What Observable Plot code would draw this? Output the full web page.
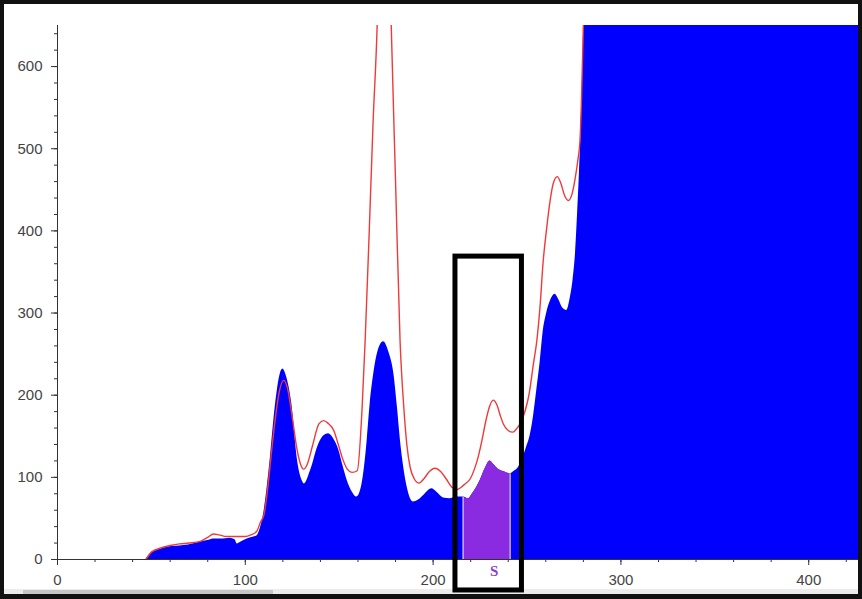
<!DOCTYPE html>
<html>
<head>
<meta charset="utf-8">
<script src="https://cdn.jsdelivr.net/npm/d3@7"></script>
<script src="https://cdn.jsdelivr.net/npm/@observablehq/plot@0.6"></script>
<style>
  html, body { margin: 0; padding: 0; background: #111; width: 862px; height: 599px; overflow: hidden; }
  #panel { position: absolute; left: 4px; top: 4px; width: 854px; height: 585px; background: #fff; }
  #track { position: absolute; left: 4px; top: 589px; width: 854px; height: 5px; background: #ececec; }
  #thumb { position: absolute; left: 23px; top: 590px; width: 250px; height: 4px; background: #c6c6c6; }
  #chart { position: absolute; left: 0; top: 0; }
</style>
</head>
<body>
<div id="panel"></div>
<div id="track"></div>
<div id="thumb"></div>
<div id="chart"></div>
<script>
// Blue filled curve (x, value)
const blueX = [0, 47, 48, 50.4, 54, 58.4, 63, 67.3, 72, 76, 80, 83, 87, 92, 94.5, 95.7, 97.5, 101, 104, 106.3, 108, 109.8, 111.5, 113.4, 115, 117, 118.5, 120, 122, 125, 127.6, 130.3, 131.5, 134.7, 139.2, 142, 144.3, 147, 149.8, 152, 154.3, 157, 159.4, 162, 164.9, 166.5, 168.4, 170.5, 173.6, 176.5, 179.1, 181, 182.6, 184.5, 186.2, 189.5, 192, 195, 199.3, 202, 205.5, 209, 212.6, 216, 218.8, 221, 225, 228, 230.3, 232.5, 234.7, 237.5, 241, 243, 245.4, 247.5, 249.8, 251.6, 253.5, 255.2, 257, 258.5, 260.5, 262.5, 264.9, 267, 269, 271.1, 273, 274.5, 275.8, 276.9, 277.9, 278.8, 279.6, 280.3, 281, 426.5];
const blueY = [0, 0, 3, 9, 12, 15, 16, 17, 19, 21, 23, 25, 25, 26, 24, 19, 21, 25, 27, 29, 38, 56, 85, 125, 165, 205, 225, 232, 222, 185, 124, 96, 92, 108, 141, 151, 153, 147, 133, 114, 96, 82, 76, 90, 145, 190, 226, 252, 265, 252, 226, 185, 145, 110, 88, 70, 72, 78, 86, 82, 75, 74, 76, 76, 74, 80, 96, 112, 120, 115, 110, 107, 104, 107, 112, 122, 137, 150, 175, 206, 240, 275, 300, 315, 323, 316, 306, 303, 318, 340, 372, 420, 470, 525, 590, 680, 1000, 1000];

// Red line (x, value)
const redX = [47, 48, 50, 55, 60, 65, 70, 76, 80, 83, 86, 90, 95, 100, 103, 106, 108, 110, 112, 114, 116, 118, 120.4, 122.5, 125, 127.6, 129.4, 131, 133, 135.6, 139.2, 141.7, 144, 147.1, 149.5, 151.6, 154.3, 156.8, 159.6, 162.2, 163.8, 166, 168, 170.2, 172, 174, 176, 177.7, 180, 182.4, 184.4, 186, 187.8, 190, 192.5, 195, 198, 201, 204, 207, 210, 212.6, 215, 217, 219.7, 222, 224, 226, 228, 230, 232, 234, 235.8, 237.4, 240, 242.4, 244, 246.3, 249, 251, 253.4, 255.2, 257, 258.5, 260.5, 262, 264, 266.1, 268, 270, 272, 274, 275.5, 277, 278.2, 279, 280, 281];
const redY = [0, 3, 9, 14, 17, 19, 20, 22, 27, 31, 30, 28, 28, 28, 30, 34, 45, 55, 88, 132, 172, 203, 218, 208, 173, 133, 116, 110, 116, 137, 165, 169, 166, 157, 140, 124, 110, 106, 108, 185, 266, 400, 530, 650, 820, 900, 820, 650, 460, 266, 185, 140, 112, 98, 93, 98, 107, 111, 107, 98, 88, 85, 88, 92, 98, 110, 125, 145, 168, 186, 194, 188, 175, 165, 157, 155, 158, 165, 181, 200, 238, 266, 310, 360, 404, 432, 458, 466, 458, 443, 437, 445, 462, 485, 510, 560, 650, 800];

// Highlighted window "S"
const sRange = [216, 241];
const sLabel = "S";
const sLabelX = 232.5;
// Annotation box around the window (data units)
const boxX = [211.9, 247.3];
const boxY = [-37.7, 368.7];

const xTicks = [0, 100, 200, 300, 400];
const yTicks = [0, 100, 200, 300, 400, 500, 600];
const xMinor = d3.range(0, 427, 20);
const yMinor = d3.range(0, 651, 20);

const blue = blueX.map((x, i) => ({x, y: blueY[i]}));
const red = redX.map((x, i) => ({x, y: redY[i]}));
const purple = blue.filter(d => d.x >= sRange[0] && d.x <= sRange[1]);
const edges = purple.filter(d => d.x === sRange[0] || d.x === sRange[1]);

const chart = Plot.plot({
  width: 862,
  height: 599,
  marginLeft: 57,
  marginRight: 4,
  marginTop: 25,
  marginBottom: 40,
  style: {background: "transparent", fontFamily: "Liberation Sans, Arial, sans-serif", fontSize: "15px", color: "#444"},
  x: {domain: [0, 426.5], label: null},
  y: {domain: [0, 650], label: null},
  marks: [
    Plot.areaY(blue, {x: "x", y: "y", fill: "#0000ff", curve: "monotone-x", clip: true}),
    Plot.areaY(purple, {x: "x", y: "y", fill: "#8a2be2", curve: "monotone-x", clip: true}),
    Plot.ruleX(edges, {x: "x", y1: 0, y2: "y", stroke: "#c7b0f2", strokeWidth: 1.5}),
    Plot.lineY(red, {x: "x", y: "y", stroke: "#ee3a3a", strokeWidth: 1.4, curve: "monotone-x", clip: true}),
    Plot.axisY(yMinor, {tickSize: 3, text: null, label: null, stroke: "#333"}),
    Plot.axisY(yTicks, {tickSize: 6, tickPadding: 9, label: null, stroke: "#333", fill: "#444", fontSize: 15}),
    Plot.axisX(xMinor, {tickSize: 3, text: null, label: null, stroke: "#333"}),
    Plot.axisX(xTicks, {tickSize: 6, tickPadding: 9, label: null, stroke: "#333", fill: "#444", fontSize: 15}),
    Plot.ruleX([0], {stroke: "#333", strokeWidth: 1}),
    Plot.ruleY([0], {stroke: "#333", strokeWidth: 1}),
    Plot.text([sLabel], {x: sLabelX, y: 0, dy: 12, text: d => d, fill: "#8a3fd8", fontWeight: "bold", fontFamily: "Liberation Serif, serif", fontSize: 15}),
    Plot.rect([0], {x1: boxX[0], x2: boxX[1], y1: boxY[0], y2: boxY[1], fill: "none", stroke: "#000", strokeWidth: 5})
  ]
});
document.getElementById("chart").appendChild(chart);
</script>
</body>
</html>
